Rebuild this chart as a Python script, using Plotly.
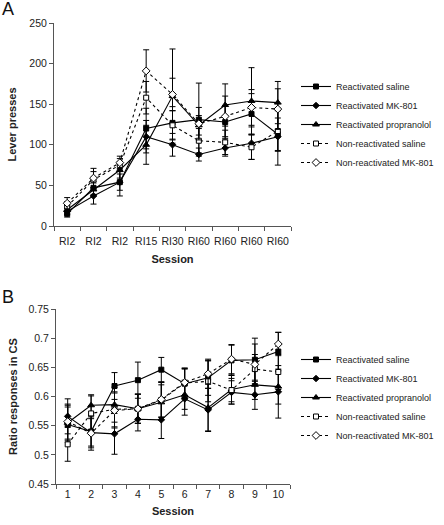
import plotly.graph_objects as go

# ---- Panel A data ----
sessions_a = ["RI2", "RI2", "RI2", "RI15", "RI30", "RI60", "RI60", "RI60", "RI60"]
a_react_saline = [15, 47, 54, 120, 127, 131, 128, 138, 113]
a_react_mk801 = [18, 37, 54, 110, 100, 88, 96, 102, 110]
a_react_prop = [20, 45, 69, 100, 160, 124, 149, 154, 152]
a_nonreact_saline = [24, 57, 75, 158, 124, 105, 103, 97, 117]
a_nonreact_mk801 = [28, 59, 78, 191, 162, 126, 135, 146, 144]
a_err_react_saline = [4, 8, 10, 25, 20, 45, 20, 25, 20]
a_err_react_mk801 = [4, 10, 17, 20, 14, 8, 10, 20, 35]
a_err_react_prop = [5, 8, 10, 24, 58, 12, 26, 41, 26]
a_err_nonreact_saline = [6, 10, 8, 20, 18, 15, 15, 15, 25]
a_err_nonreact_mk801 = [7, 12, 8, 26, 20, 20, 25, 22, 25]

# ---- Panel B data ----
sessions_b = ["1", "2", "3", "4", "5", "6", "7", "8", "9", "10"]
b_react_saline = [0.552, 0.540, 0.618, 0.628, 0.646, 0.622, 0.632, 0.662, 0.663, 0.677]
b_react_mk801 = [0.566, 0.538, 0.536, 0.561, 0.560, 0.596, 0.577, 0.607, 0.603, 0.608]
b_react_prop = [0.555, 0.585, 0.586, 0.579, 0.590, 0.603, 0.581, 0.612, 0.620, 0.617]
b_nonreact_saline = [0.518, 0.571, 0.578, 0.579, 0.594, 0.623, 0.626, 0.611, 0.647, 0.642]
b_nonreact_mk801 = [0.557, 0.537, 0.576, 0.579, 0.595, 0.624, 0.639, 0.664, 0.655, 0.690]
b_err_react_saline = [0.03, 0.025, 0.023, 0.031, 0.021, 0.025, 0.03, 0.026, 0.037, 0.033]
b_err_react_mk801 = [0.03, 0.03, 0.035, 0.02, 0.032, 0.028, 0.037, 0.02, 0.025, 0.045]
b_err_react_prop = [0.03, 0.018, 0.03, 0.025, 0.03, 0.025, 0.04, 0.025, 0.025, 0.03]
b_err_nonreact_saline = [0.029, 0.03, 0.03, 0.025, 0.03, 0.025, 0.035, 0.02, 0.025, 0.03]
b_err_nonreact_mk801 = [0.03, 0.025, 0.03, 0.025, 0.03, 0.025, 0.025, 0.025, 0.035, 0.02]

names = ["Reactivated saline", "Reactivated MK-801", "Reactivated propranolol",
         "Non-reactivated saline", "Non-reactivated MK-801"]
styles = [
    dict(symbol="square", color="black", size=5, dash="solid"),
    dict(symbol="diamond", color="black", size=5, dash="solid"),
    dict(symbol="triangle-up", color="black", size=6, dash="solid"),
    dict(symbol="square", color="white", size=5, dash="dot"),
    dict(symbol="diamond", color="white", size=6, dash="dot"),
]

fig = go.Figure()

def add_panel(xvals, series, errs, xa, ya, legend):
    for name, ys, es, st in zip(names, series, errs, styles):
        fig.add_trace(go.Scatter(
            x=xvals, y=ys, name=name, mode="lines+markers",
            line=dict(color="black", width=1.1, dash=st["dash"]),
            marker=dict(symbol=st["symbol"], size=st["size"], color=st["color"],
                        line=dict(color="black", width=1)),
            error_y=dict(type="data", array=es, color="black", thickness=1, width=3),
            xaxis=xa, yaxis=ya, legend=legend,
        ))

xa_vals = list(range(1, len(sessions_a) + 1))
xb_vals = list(range(1, len(sessions_b) + 1))

add_panel(xa_vals,
          [a_react_saline, a_react_mk801, a_react_prop, a_nonreact_saline, a_nonreact_mk801],
          [a_err_react_saline, a_err_react_mk801, a_err_react_prop, a_err_nonreact_saline, a_err_nonreact_mk801],
          "x", "y", "legend")
add_panel(xb_vals,
          [b_react_saline, b_react_mk801, b_react_prop, b_nonreact_saline, b_nonreact_mk801],
          [b_err_react_saline, b_err_react_mk801, b_err_react_prop, b_err_nonreact_saline, b_err_nonreact_mk801],
          "x2", "y2", "legend2")

W, H = 444, 525


def px(p):
    return p / W


def py(p):
    return 1 - p / H


font = "Liberation Sans, Arial, sans-serif"
axis_common = dict(showgrid=False, zeroline=False, showline=True, linecolor="#555",
                   linewidth=1, tickfont=dict(size=10.5, color="#222", family=font),
                   mirror=False, automargin=False)

fig.update_layout(
    width=W, height=H,
    margin=dict(l=0, r=0, t=0, b=0),
    paper_bgcolor="white", plot_bgcolor="white",
    font=dict(family=font, color="#222"),
    xaxis=dict(**axis_common, domain=[px(54), px(291)], anchor="y",
               range=[0.5, len(sessions_a) + 0.5], tickangle=0, ticklabelstandoff=5,
               tickmode="array", tickvals=xa_vals, ticktext=sessions_a, ticks="",
               minor=dict(tickmode="array", tickvals=[i + 0.5 for i in range(len(sessions_a) + 1)],
                          ticks="outside", ticklen=4, tickcolor="#555"),
               title=dict(text="<b>Session</b>", font=dict(size=11, family=font), standoff=9)),
    yaxis=dict(**axis_common, domain=[py(226), py(23)], anchor="x",
               range=[0, 250], dtick=50, ticks="outside", ticklen=4, tickcolor="#555",
               title=dict(text="<b>Lever presses</b>", font=dict(size=11, family=font), standoff=10)),
    xaxis2=dict(**axis_common, domain=[px(56), px(290)], anchor="y2",
                range=[0.5, len(sessions_b) + 0.5], tickangle=0,
                tickmode="array", tickvals=xb_vals, ticktext=sessions_b, ticks="",
                minor=dict(tickmode="array", tickvals=[i + 0.5 for i in range(len(sessions_b) + 1)],
                           ticks="outside", ticklen=4, tickcolor="#555"),
                title=dict(text="<b>Session</b>", font=dict(size=11, family=font), standoff=8)),
    yaxis2=dict(**axis_common, domain=[py(484), py(309)], anchor="x2",
                range=[0.45, 0.75], dtick=0.05, ticks="outside", ticklen=4, tickcolor="#555",
                tickformat="~g",
                title=dict(text="<b>Ratio responses in CS</b>", font=dict(size=11, family=font), standoff=8)),
    legend=dict(x=px(296), y=py(72), xanchor="left", yanchor="top",
                font=dict(size=9, family=font), tracegroupgap=0, itemwidth=30,
                bgcolor="rgba(0,0,0,0)", borderwidth=0),
    legend2=dict(x=px(296), y=py(345), xanchor="left", yanchor="top",
                 font=dict(size=9, family=font), tracegroupgap=0, itemwidth=30,
                 bgcolor="rgba(0,0,0,0)", borderwidth=0),
    annotations=[
        dict(text="A", x=px(0), y=py(-3), xref="paper", yref="paper",
             xanchor="left", yanchor="top", showarrow=False, font=dict(size=18, family=font, color="#111")),
        dict(text="B", x=px(0), y=py(285), xref="paper", yref="paper",
             xanchor="left", yanchor="top", showarrow=False, font=dict(size=18, family=font, color="#111")),
    ],
)

fig.write_html("out.html", config={"displayModeBar": False},
               post_script="document.body.style.margin='0';document.body.style.overflow='hidden';")
